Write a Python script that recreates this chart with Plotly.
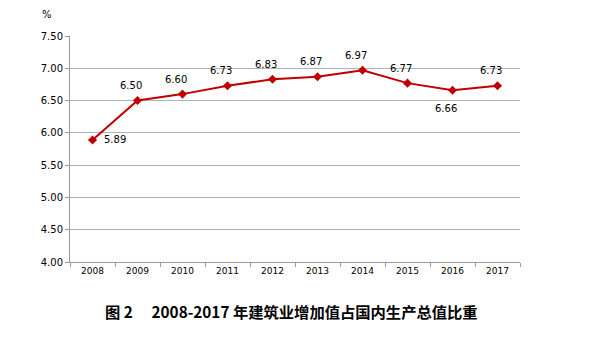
import plotly.graph_objects as go

years = ["2008", "2009", "2010", "2011", "2012", "2013", "2014", "2015", "2016", "2017"]
share = [5.89, 6.50, 6.60, 6.73, 6.83, 6.87, 6.97, 6.77, 6.66, 6.73]
label_side = ["right", "above", "above", "above", "above",
              "above", "above", "above", "below", "above"]
y_ticks = [4.0, 4.5, 5.0, 5.5, 6.0, 6.5, 7.0, 7.5]

fig = go.Figure()
fig.add_trace(go.Scatter(
    x=years, y=share, mode="lines+markers",
    line=dict(color="#c00000", width=2),
    marker=dict(symbol="diamond", size=7, color="#c00000"),
    showlegend=False,
))

annotations = []
for i, (v, side) in enumerate(zip(share, label_side)):
    if side == "right":
        xs, ys, xa = 9, 0, "left"
    elif side == "above":
        xs, ys, xa = -7, 15, "center"
    else:
        xs, ys, xa = -7, -18, "center"
    annotations.append(dict(
        x=i, y=v, xref="x", yref="y", text=f"{v:.2f}", showarrow=False,
        xanchor=xa, yanchor="middle", xshift=xs, yshift=ys,
        font=dict(family="DejaVu Sans", size=10, color="#000000"),
    ))

annotations += [
    dict(text="%", xref="paper", yref="paper", x=-0.035, y=1.0, yshift=14,
         xanchor="right", yanchor="bottom", showarrow=False,
         font=dict(size=10)),
    dict(text="图 2　 2008-2017 年建筑业增加值占国内生产总值比重",
         xref="paper", yref="paper", x=0.493, y=0, yshift=-36,
         xanchor="center", yanchor="top", showarrow=False,
         font=dict(family="Noto Sans CJK SC", size=15.3, weight=600, color="#000000")),
]

fig.update_layout(
    width=593, height=348,
    margin=dict(l=70, r=73, t=36, b=86),
    paper_bgcolor="white", plot_bgcolor="white",
    font=dict(family="DejaVu Sans", size=10, color="#000000"),
    xaxis=dict(
        type="category", range=[-0.5, 9.5], tickson="boundaries",
        ticks="outside", ticklen=4, tickcolor="#999999",
        showline=True, linecolor="#999999", linewidth=1,
        showgrid=False, tickfont=dict(size=9),
    ),
    yaxis=dict(
        range=[4.0, 7.5], tickvals=y_ticks,
        ticktext=[f"{v:.2f}" for v in y_ticks],
        ticks="outside", ticklen=4, tickcolor="#999999",
        showline=True, linecolor="#999999", linewidth=1,
        showgrid=True, gridcolor="#b3b3b3", gridwidth=1,
        zeroline=False, tickfont=dict(size=10),
    ),
    annotations=annotations,
)

fig.write_html("out.html")
